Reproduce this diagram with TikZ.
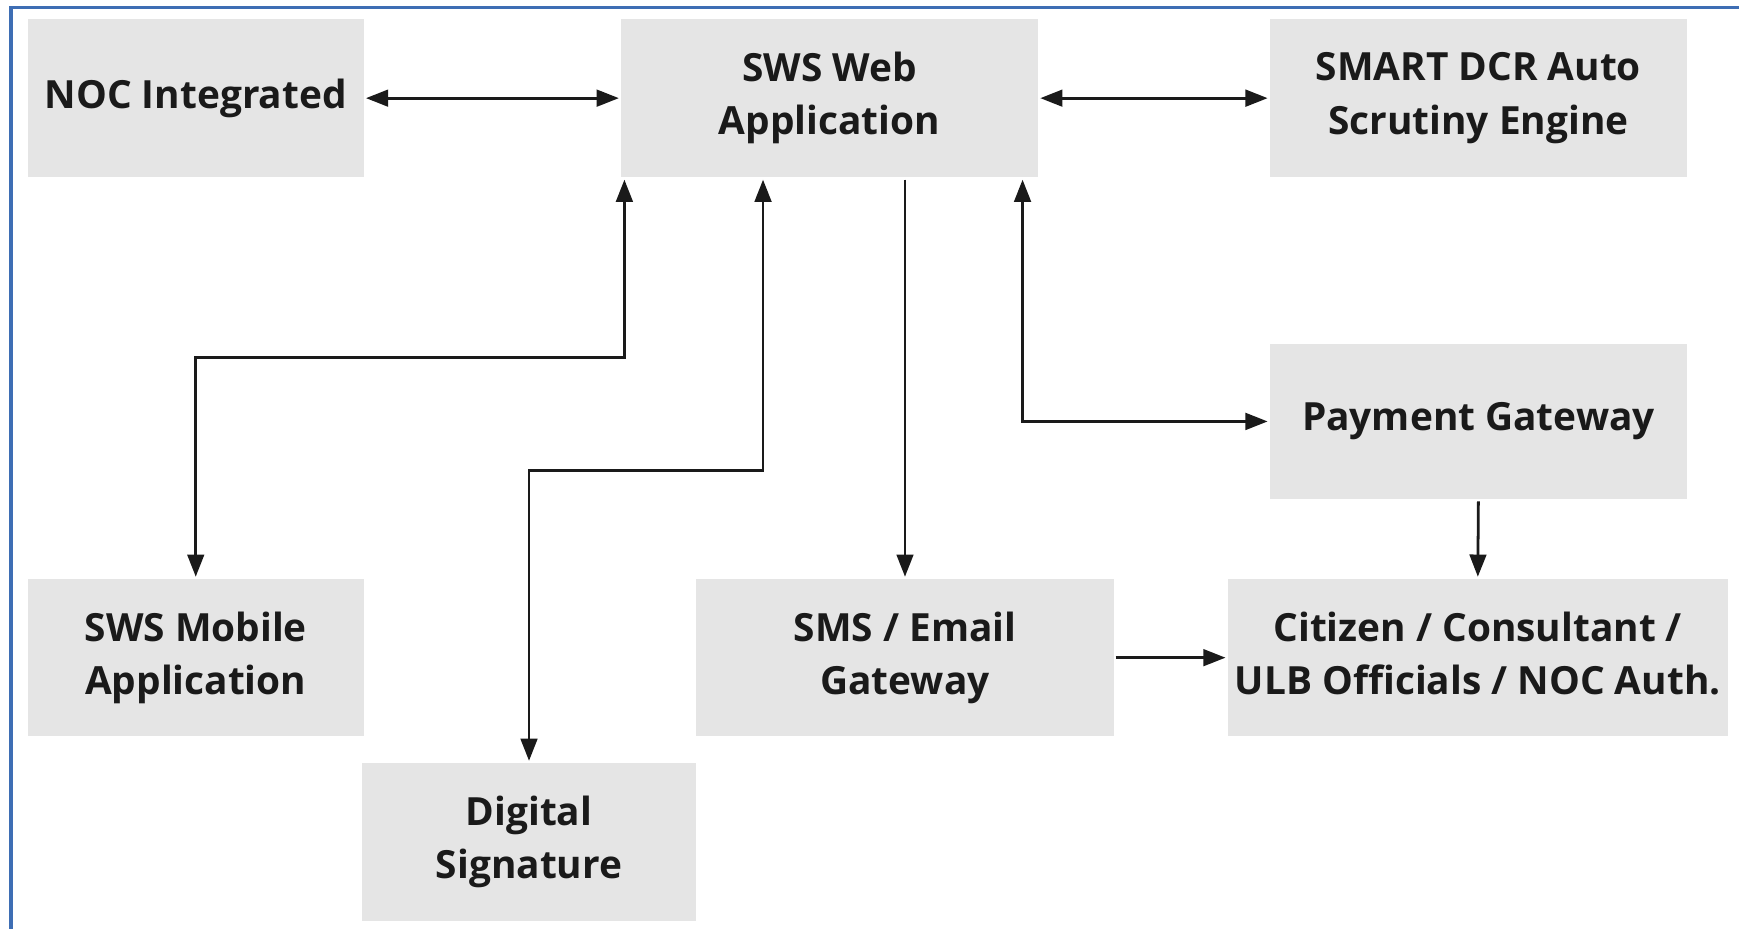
\documentclass[tikz,border=0pt]{standalone}
\usepackage{fontspec}
\setmainfont{Open Sans}
\usetikzlibrary{arrows.meta,calc}
\definecolor{boxgray}{RGB}{229,229,229}
\definecolor{inkc}{RGB}{26,26,26}
\definecolor{frameblue}{RGB}{62,110,180}
\tikzset{
  blk/.style={fill=boxgray, text=inkc, align=center, inner sep=0pt, outer sep=2pt,
    font=\fontsize{35}{48}\selectfont\bfseries},
  conn/.style={draw=inkc, line width=2.5pt, {Triangle[length=20pt,width=15pt]}-{Triangle[length=20pt,width=15pt]}},
  conn1/.style={draw=inkc, line width=2.5pt, -{Triangle[length=20pt,width=15pt]}},
}
\begin{document}
\begin{tikzpicture}[x=1pt,y=-1pt]
\useasboundingbox (0,0) rectangle (1568,837);
\fill[white] (0,0) rectangle (1568,837);
\draw[frameblue, line width=3pt] (10,7) rectangle (1600,900);
\node[blk, minimum width=303pt, minimum height=143pt] (noc) at (176.5,88.5) {NOC Integrated};
\node[blk, minimum width=376pt, minimum height=143pt] (web) at (748,88.5) {SWS Web\\Application};
\node[blk, minimum width=376pt, minimum height=143pt] (smart) at (1333,88.5) {SMART DCR Auto\\Scrutiny Engine};
\node[blk, minimum width=376pt, minimum height=140pt] (pay) at (1333,380) {Payment Gateway};
\node[blk, minimum width=303pt, minimum height=142pt] (mob) at (176.5,593) {SWS Mobile\\Application};
\node[blk, minimum width=376pt, minimum height=142pt] (sms) at (816,593) {SMS / Email\\Gateway};
\node[blk, minimum width=451pt, minimum height=142pt] (cit) at (1332.5,593) {Citizen / Consultant /\\ULB Officials / NOC Auth.\vphantom{y}};
\node[blk, minimum width=302pt, minimum height=142pt] (dig) at (477,759) {Digital\\Signature};
\draw[conn] (noc.east) -- (web.west);
\draw[conn] (web.east) -- (smart.west);
\draw[conn] ([xshift=5pt]web.south west) -- ++(0,160) -| (mob.north);
\draw[conn] ([xshift=130pt]web.south west) -- ++(0,262) -| (dig.north);
\draw[conn1] (web.south -| sms.north) -- (sms.north);
\draw[conn] ([xshift=-16pt]web.south east) |- (pay.west);
\draw[conn1] (pay.south) -- (cit.north);
\draw[conn1] (sms.east) -- (cit.west);
\end{tikzpicture}
\end{document}
